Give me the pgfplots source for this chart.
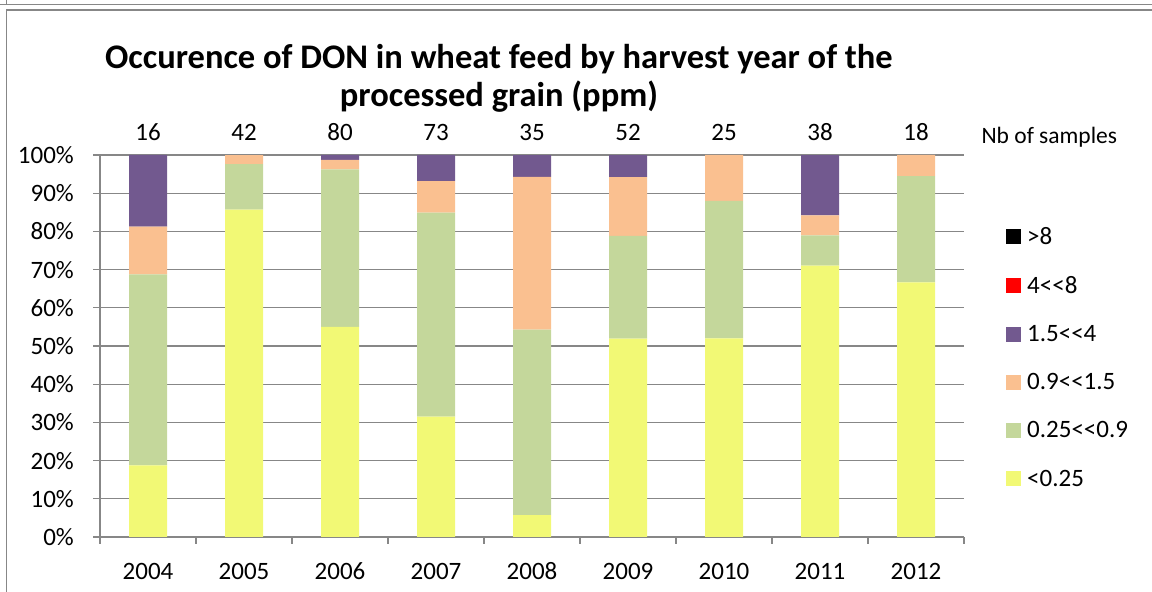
\documentclass[border=0pt]{standalone}
\usepackage{pgfplots}
\pgfplotsset{compat=1.18}
\usepackage{pgfplotstable}
\usepackage{fontspec}
\setmainfont{Carlito}

\definecolor{cYel}{HTML}{F2F975}
\definecolor{cGrn}{HTML}{C4D79B}
\definecolor{cOra}{HTML}{FAC090}
\definecolor{cPur}{HTML}{72598F}
\definecolor{cRed}{HTML}{FF0000}
\definecolor{gridgray}{HTML}{878787}

\pgfplotsset{sqleg/.style={legend image code/.code={
  \fill[##1] (0pt,-7.5pt) rectangle (15pt,7.5pt);
  \path (21pt,0pt);}}}

% share of samples (%) per DON class, by harvest year
\pgfplotstableread{
x  lt025  b025  b09   b15
0  18.75  50.00 12.50 18.75
1  85.71  11.90  2.38  0
2  55.00  41.25  2.50  1.25
3  31.51  53.42  8.22  6.85
4   5.71  48.57 40.00  5.71
5  51.92  26.92 15.38  5.77
6  52.00  36.00 12.00  0
7  71.05   7.89  5.26 15.79
8  66.67  27.78  5.56  0
}\dontable

\begin{document}
\begin{tikzpicture}[x=1pt,y=1pt]
\useasboundingbox (0,0) rectangle (1152,592);
% frames
\draw[gridgray, line width=1.3pt] (0,587.5) -- (1152,587.5);
\draw[gridgray, line width=1.3pt] (6.5,592) -- (6.5,587.5);
\draw[gridgray, line width=1.3pt] (1152,582) -- (6.5,582) -- (6.5,0);

\node[anchor=base, font=\fontsize{34.5}{40}\selectfont\bfseries] at (499,523) {Occurence of DON in wheat feed by harvest year of the};
\node[anchor=base, font=\fontsize{34.5}{40}\selectfont\bfseries] at (499,485) {processed grain (ppm)};
\node[anchor=base west, font=\fontsize{23.5}{28}\selectfont] at (978,448) {Nb of samples};

\begin{axis}[
  scale only axis,
  width=864pt, height=382pt,
  at={(100pt,55pt)}, anchor=south west,
  xmin=-0.5, xmax=8.5,
  ymin=0, ymax=100,
  ybar stacked, bar width=38pt,
  xtick={-0.5,0.5,...,8.5},
  x tick label as interval,
  xticklabels={2004,2005,2006,2007,2008,2009,2010,2011,2012},
  ytick={0,10,...,100},
  yticklabels={0\%,10\%,20\%,30\%,40\%,50\%,60\%,70\%,80\%,90\%,100\%},
  axis x line*=bottom, axis y line*=left,
  tick align=outside,
  major tick length=7pt,
  ymajorgrids,
  grid style={gridgray, line width=1.3pt},
  axis line style={gridgray, line width=1.3pt},
  tick style={gridgray, line width=1.3pt},
  tick label style={font=\fontsize{25}{30}\selectfont, text=black},
  yticklabel style={anchor=east, inner sep=0pt, xshift=-19pt},
  xticklabel style={anchor=base, inner sep=0pt, yshift=-36pt},
  clip=false,
  reverse legend,
  legend cell align=left,
  legend style={at={(1.0486,0.8115)}, anchor=north west, draw=none, fill=none,
    inner sep=0pt, row sep=30.5pt, font=\fontsize{25}{30}\selectfont,
    nodes={inner sep=0pt}},
]
\addplot[fill=cYel, draw=none, sqleg] table[x=x, y=lt025] {\dontable};
\addlegendentry{<0.25}
\addplot[fill=cGrn, draw=none, sqleg] table[x=x, y=b025] {\dontable};
\addlegendentry{0.25<{}<0.9}
\addplot[fill=cOra, draw=none, sqleg] table[x=x, y=b09] {\dontable};
\addlegendentry{0.9<{}<1.5}
\addplot[fill=cPur, draw=none, sqleg] table[x=x, y=b15] {\dontable};
\addlegendentry{1.5<{}<4}
\addlegendimage{fill=cRed, draw=none, sqleg}
\addlegendentry{4<{}<8}
\addlegendimage{fill=black, draw=none, sqleg}
\addlegendentry{>8}

\foreach \i/\n in {0/16,1/42,2/80,3/73,4/35,5/52,6/25,7/38,8/18} {
  \edef\tmp{\noexpand\node[anchor=base, font=\noexpand\fontsize{25}{30}\noexpand\selectfont, yshift=14pt] at (axis cs:\i,100) {\n};}
  \tmp
}
\end{axis}
\end{tikzpicture}
\end{document}
